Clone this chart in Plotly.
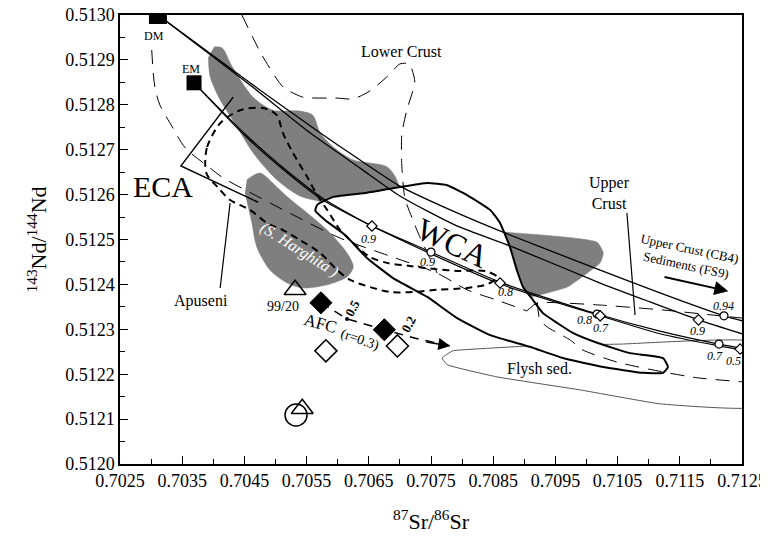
import plotly.graph_objects as go

FONT = "Liberation Serif, Times New Roman, Times, serif"

# ---------------- end-members ----------------
dm_sr, dm_nd = [0.70311], [0.51300]
em_sr, em_nd = [0.70369], [0.512849]

# ---------------- mixing curves ----------------
dm_uc_sr = [0.70311, 0.70459, 0.70567, 0.70636, 0.70700, 0.70781, 0.70877, 0.71022, 0.71118, 0.71221, 0.71250]
dm_uc_nd = [0.51300, 0.512849, 0.512742, 0.512677, 0.512619, 0.512566, 0.512510, 0.512432, 0.512381, 0.512330, 0.512319]
dm_sed_sr = [0.70311, 0.70459, 0.70556, 0.70636, 0.70700, 0.70789, 0.70882, 0.71022, 0.71102, 0.71180, 0.71250]
dm_sed_nd = [0.51300, 0.512844, 0.512737, 0.512659, 0.512597, 0.512532, 0.512483, 0.512403, 0.512361, 0.512321, 0.512290]
em_uc_sr = [0.70369, 0.70451, 0.70507, 0.70576, 0.70652, 0.70750, 0.70861, 0.71017, 0.71118, 0.71213, 0.71250]
em_uc_nd = [0.512849, 0.512735, 0.512666, 0.512592, 0.512532, 0.512472, 0.512405, 0.512334, 0.512296, 0.512267, 0.512258]
em_sed_sr = [0.70369, 0.70451, 0.70507, 0.70576, 0.70655, 0.70750, 0.70861, 0.71022, 0.71118, 0.71213, 0.71250]
em_sed_nd = [0.512849, 0.512731, 0.512662, 0.512588, 0.512530, 0.512468, 0.512401, 0.512330, 0.512290, 0.512263, 0.512254]

# fraction markers on the curves
circ_sr = [0.70750, 0.71017, 0.71213, 0.71221]
circ_nd = [0.512472, 0.512334, 0.512267, 0.512330]
diam_sr = [0.70655, 0.70861, 0.71022, 0.71180, 0.71247]
diam_nd = [0.512530, 0.512403, 0.512330, 0.512321, 0.512256]
frac_text = ["0.9", "0.9", "0.8", "0.8", "0.7", "0.9", "0.94", "0.7", "0.5"]
frac_sr = [0.70649, 0.70744, 0.70869, 0.70996, 0.71023, 0.71178, 0.71220, 0.71207, 0.71236]
frac_nd = [0.512501, 0.512450, 0.512383, 0.512321, 0.512303, 0.512296, 0.512352, 0.512241, 0.512229]

# ---------------- samples ----------------
afc_sr = [0.70573, 0.70615, 0.70675, 0.70725, 0.70781]
afc_nd = [0.512359, 0.512323, 0.512299, 0.512280, 0.512263]
black_diam_sr = [0.70573, 0.70675]
black_diam_nd = [0.512359, 0.512299]
open_diam_sr = [0.70581, 0.70696]
open_diam_nd = [0.512252, 0.512263]
tri_sr = [0.705315, 0.70543]
tri_nd = [0.512388, 0.512123]
circ_s_sr = [0.70533]
circ_s_nd = [0.512109]
dot_sr = [0.70615]
dot_nd = [0.512323]

# ---------------- fields ----------------
eca1_sr = [0.70401, 0.70414, 0.70430, 0.70464, 0.70496, 0.70539, 0.70560, 0.70572, 0.70593, 0.70625, 0.70679,
           0.70695, 0.70699, 0.70604, 0.70580, 0.70539, 0.70502, 0.70464, 0.70438, 0.70411, 0.70395, 0.70392]
eca1_nd = [0.512929, 0.512927, 0.512886, 0.512817, 0.512788, 0.512786, 0.512777, 0.512737, 0.512706, 0.512677, 0.512662,
           0.512633, 0.512588, 0.512561, 0.512581, 0.512597, 0.512633, 0.512693, 0.512751, 0.512811, 0.512862, 0.512906]
harg_sr = [0.70454, 0.70475, 0.70502, 0.70519, 0.70551, 0.70583, 0.70615, 0.70625, 0.70615, 0.70583, 0.70544,
           0.70519, 0.70491, 0.70470, 0.70462, 0.70451]
harg_nd = [0.512633, 0.512648, 0.512617, 0.512595, 0.512559, 0.512521, 0.512470, 0.512439, 0.512417, 0.512399, 0.512392,
           0.512403, 0.512432, 0.512483, 0.512537, 0.512604]
eca3_sr = [0.70861, 0.71017, 0.71027, 0.71022, 0.71001, 0.70969, 0.70937, 0.70909, 0.70885, 0.70869]
eca3_nd = [0.512517, 0.512494, 0.512470, 0.512448, 0.512425, 0.512394, 0.512381, 0.512372, 0.512376, 0.512443]
wca_sr = [0.70567, 0.70593, 0.70647, 0.70700, 0.70744, 0.70776, 0.70808, 0.70845, 0.70861, 0.70877, 0.70888,
          0.70898, 0.70914, 0.70930, 0.70953, 0.70978, 0.71017, 0.71070, 0.71123, 0.71131, 0.71123, 0.71091,
          0.71027, 0.70962, 0.70909, 0.70845, 0.70792, 0.70744, 0.70689, 0.70647, 0.70612, 0.70580, 0.70564, 0.70567]
wca_nd = [0.512577, 0.512595, 0.512604, 0.512617, 0.512626, 0.512621, 0.512599, 0.512566, 0.512537, 0.512483, 0.512432,
          0.512394, 0.512365, 0.512336, 0.512314, 0.512292, 0.512270, 0.512247, 0.512236, 0.512216, 0.512203, 0.512203,
          0.512216, 0.512236, 0.512261, 0.512287, 0.512325, 0.512372, 0.512414, 0.512459, 0.512510, 0.512543, 0.512564, 0.512577]
flysh_sr = [0.70785, 0.70845, 0.70909, 0.71054, 0.71270, 0.71270, 0.71118, 0.70990, 0.70856, 0.70776, 0.70768, 0.70785]
flysh_nd = [0.512252, 0.512258, 0.512263, 0.512267, 0.512272, 0.512127, 0.512134, 0.512165, 0.512194, 0.512221, 0.512236, 0.512252]
apu_sr = [0.70387, 0.70390, 0.70411, 0.70443, 0.70480, 0.70502, 0.70512, 0.70528, 0.70551, 0.70567, 0.70583, 0.70604,
          0.70625, 0.70652, 0.70679, 0.70716, 0.70757, 0.70797, 0.70837, 0.70856, 0.70842, 0.70808, 0.70760, 0.70721,
          0.70684, 0.70652, 0.70620, 0.70599, 0.70572, 0.70539, 0.70512, 0.70486, 0.70459, 0.70427, 0.70408, 0.70390, 0.70387]
apu_nd = [0.512666, 0.512706, 0.512759, 0.512788, 0.512793, 0.512777, 0.512737, 0.512693, 0.512639, 0.512599, 0.512566, 0.512521,
          0.512492, 0.512461, 0.512448, 0.512441, 0.512434, 0.512430, 0.512430, 0.512417, 0.512401, 0.512392, 0.512388, 0.512383,
          0.512383, 0.512394, 0.512410, 0.512432, 0.512470, 0.512499, 0.512521, 0.512537, 0.512566, 0.512588, 0.512615, 0.512644, 0.512666]
lc_left_sr = [0.70301, 0.70306, 0.70314, 0.70334, 0.70355, 0.70395, 0.70416, 0.70467, 0.70528, 0.70604, 0.70684,
              0.70760, 0.70808, 0.70856, 0.70904]
lc_left_nd = [0.512922, 0.512840, 0.512800, 0.512751, 0.512704, 0.512659, 0.512637, 0.512599, 0.512555, 0.512503, 0.512463,
              0.512425, 0.512388, 0.512365, 0.512341]
lc_up_sr = [0.70446, 0.70478, 0.70512, 0.70544, 0.70599, 0.70625, 0.70652, 0.70679, 0.70700, 0.70715, 0.70724, 0.70711,
            0.70703, 0.70703, 0.70708, 0.70721, 0.70732, 0.70748, 0.70760]
lc_up_nd = [0.513000, 0.512911, 0.512840, 0.512817, 0.512815, 0.512813, 0.512831, 0.512862, 0.512891, 0.512891, 0.512851, 0.512788,
            0.512733, 0.512666, 0.512592, 0.512543, 0.512506, 0.512459, 0.512425]
uc_top_sr = [0.70904, 0.70921, 0.71022, 0.71123, 0.71250]
uc_top_nd = [0.512341, 0.512359, 0.512354, 0.512343, 0.512325]
uc_bot_sr = [0.70921, 0.70925, 0.70937, 0.70974, 0.70994, 0.71049, 0.71123, 0.71178, 0.71250]
uc_bot_nd = [0.512359, 0.512321, 0.512305, 0.512276, 0.512254, 0.512227, 0.512205, 0.512192, 0.512183]
eca_br_sr = [0.70432, 0.70348, 0.70472]
eca_br_nd = [0.512817, 0.512664, 0.512583]
apu_ptr_sr = [0.70411, 0.70427]
apu_ptr_nd = [0.512392, 0.512581]
uc_ptr_sr = [0.71065, 0.71078]
uc_ptr_nd = [0.512559, 0.512332]

GRAY = "#7f7f7f"
fig = go.Figure()


def line(xs, ys, width=1.3, dash="solid", color="black", shape="spline", smooth=0.6):
    fig.add_trace(go.Scatter(x=xs, y=ys, mode="lines", hoverinfo="skip",
                             line=dict(color=color, width=width, dash=dash, shape=shape,
                                       smoothing=smooth if shape == "spline" else None)))


def field(xs, ys, fill, lcolor, width=0, dash="solid", smooth=0.8):
    fig.add_trace(go.Scatter(x=xs, y=ys, mode="lines", fill="toself", fillcolor=fill, hoverinfo="skip",
                             line=dict(color=lcolor, width=width, dash=dash, shape="spline", smoothing=smooth)))


# gray ECA fields
field(eca1_sr, eca1_nd, GRAY, GRAY, 0.5)
field(harg_sr, harg_nd, GRAY, GRAY, 0.5)
field(eca3_sr, eca3_nd, GRAY, GRAY, 0.5, smooth=0.5)
# Flysh sediments
line(flysh_sr, flysh_nd, 1.0, color="#555555", shape="spline", smooth=0.3)
# WCA field
field(wca_sr, wca_nd, "white", "black", 2.0, smooth=0.4)
# Apuseni field (bold dashes)
line(apu_sr, apu_nd, 2.0, dash="7px,5px", smooth=0.8)
# lower / upper crust fields (long thin dashes)
line(lc_left_sr, lc_left_nd, 1.0, dash="14px,9px", smooth=0.8)
line(lc_up_sr, lc_up_nd, 1.0, dash="14px,9px", smooth=0.6)
line(uc_top_sr, uc_top_nd, 1.0, dash="14px,9px", smooth=0.4)
line(uc_bot_sr, uc_bot_nd, 1.0, dash="14px,9px", smooth=0.6)
# pointers
line(eca_br_sr, eca_br_nd, 1.5, shape="linear")
line(apu_ptr_sr, apu_ptr_nd, 1.2, shape="linear")
line(uc_ptr_sr, uc_ptr_nd, 1.2, shape="linear")
# mixing curves
line(dm_uc_sr, dm_uc_nd, 1.3)
line(dm_sed_sr, dm_sed_nd, 1.3)
line(em_uc_sr, em_uc_nd, 1.2)
line(em_sed_sr, em_sed_nd, 1.2)
# AFC path
line(afc_sr, afc_nd, 1.5, dash="9px,7px", shape="linear")


def mk(xs, ys, symbol, size, fill, lw=1.5):
    fig.add_trace(go.Scatter(x=xs, y=ys, mode="markers", hoverinfo="skip",
                             marker=dict(symbol=symbol, size=size, color=fill,
                                         line=dict(color="black", width=lw))))


mk(circ_sr, circ_nd, "circle", 8, "white", 1.2)
mk(diam_sr, diam_nd, "diamond", 8, "white", 1.2)
mk(dm_sr, dm_nd, "square", 18, "black", 0)
mk(em_sr, em_nd, "square", 15, "black", 0)
mk(black_diam_sr, black_diam_nd, "diamond", 17, "black", 1)
mk(open_diam_sr, open_diam_nd, "diamond", 17, "white", 1.5)
mk(circ_s_sr, circ_s_nd, "circle", 22, "rgba(0,0,0,0)", 1.5)
mk(tri_sr, tri_nd, "triangle-up", 19, "rgba(0,0,0,0)", 1.5)
mk(dot_sr, dot_nd, "circle", 4, "black", 0)

ann = []


def txt(x, y, s, size=16, angle=0, color="black", xanchor="center"):
    ann.append(dict(x=x, y=y, xref="x", yref="y", text=s, showarrow=False, textangle=angle,
                    xanchor=xanchor, font=dict(family=FONT, size=size, color=color)))


for t, x, y in zip(frac_text, frac_sr, frac_nd):
    txt(x, y, "<i>" + t + "</i>", 12)

txt(0.70305, 0.512953, "DM", 12)
txt(0.70364, 0.512880, "EM", 12)
txt(0.70702, 0.512918, "Lower Crust", 16)
txt(0.70319, 0.512617, "ECA", 30)
txt(0.70785, 0.512492, "WCA", 32, 25)
txt(0.70539, 0.512477, "<i>(S. Harghita )</i>", 16, 32, "white")
txt(0.70380, 0.512363, "Apuseni", 16)
txt(0.70512, 0.512350, "99/20", 14)
txt(0.70572, 0.512314, "AFC", 17, 15)
txt(0.70636, 0.512276, "(r=0.3)", 14, 19)
txt(0.70623, 0.512347, "<b>0.5</b>", 13, -62)
txt(0.70714, 0.512310, "<b>0.2</b>", 13, -62)
txt(0.71000, 0.512604, "Upper<br>Crust", 16, 0, xanchor="left")
txt(0.71163, 0.512461, "Upper Crust (CB4)<br>Sediments (FS9)", 13, 12)
txt(0.70924, 0.512212, "Flysh sed.", 16)

# arrows
ann.append(dict(x=0.71228, y=0.512385, ax=0.71123, ay=0.512417, xref="x", yref="y", axref="x", ayref="y",
                text="", showarrow=True, arrowhead=2, arrowsize=1.4, arrowwidth=2, arrowcolor="black"))
ann.append(dict(x=0.70781, y=0.512263, ax=0.70740, ay=0.512272, xref="x", yref="y", axref="x", ayref="y",
                text="", showarrow=True, arrowhead=2, arrowsize=1.6, arrowwidth=1.5, arrowcolor="black"))

# axis titles
ann.append(dict(x=0.5, y=0, xref="paper", yref="paper", yanchor="middle", yshift=-56, showarrow=False,
                text="<sup>87</sup>Sr/<sup>86</sup>Sr", font=dict(family=FONT, size=22, color="black")))
ann.append(dict(x=0, y=0.5, xref="paper", yref="paper", xanchor="center", xshift=-84, showarrow=False,
                textangle=-90, text="<sup>143</sup>Nd/<sup>144</sup>Nd",
                font=dict(family=FONT, size=22, color="black")))

axis_common = dict(showgrid=False, zeroline=False, showline=True, mirror=True, linecolor="black", linewidth=1.5,
                   ticks="inside", ticklen=8, tickwidth=1.2, tickcolor="black", tickformat=".4f",
                   automargin=False, ticklabeloverflow="allow",
                   tickfont=dict(family=FONT, size=18, color="black"))

# the page body adds an 8 px offset; the figure is sized so the page does not scroll
fig.update_layout(
    template="none",
    width=760, height=528, margin=dict(l=112, r=26, t=7, b=72),
    paper_bgcolor="white", plot_bgcolor="white", showlegend=False,
    font=dict(family=FONT, color="black"),
    annotations=ann,
    xaxis=dict(range=[0.7025, 0.7125], tick0=0.7025, dtick=0.001,
               minor=dict(dtick=0.0005, tick0=0.7025, ticks="inside", ticklen=5, tickcolor="black"),
               **axis_common),
    yaxis=dict(range=[0.5120, 0.5130], tick0=0.5120, dtick=0.0001,
               minor=dict(dtick=0.00005, tick0=0.5120, ticks="inside", ticklen=5, tickcolor="black"),
               **axis_common),
)

fig.write_html("out.html")
